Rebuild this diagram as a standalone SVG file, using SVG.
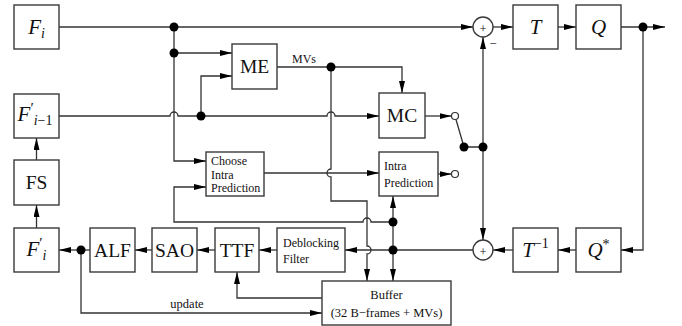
<svg xmlns="http://www.w3.org/2000/svg" width="682" height="326" viewBox="0 0 682 326">
<style>
.b{fill:#fff;stroke:#3a3a3a;stroke-width:1.4}
.l{fill:none;stroke:#333;stroke-width:1.3}
.d{fill:#000}
.o{fill:#fff;stroke:#333;stroke-width:1.2}
.m{font-family:"Liberation Serif",serif;font-style:italic;font-size:21px;fill:#111;text-anchor:middle}
.r{font-family:"Liberation Serif",serif;font-size:19.5px;fill:#111;text-anchor:middle}
.s{font-family:"Liberation Serif",serif;font-size:12px;fill:#111}
.c{font-family:"Liberation Serif",serif;font-size:12.5px;fill:#111;text-anchor:middle}
</style>
<defs>
<marker id="a" viewBox="0 0 12 6" refX="12" refY="3" markerWidth="12" markerHeight="6" markerUnits="userSpaceOnUse" orient="auto"><path d="M0,0 L12,3 L0,6 z" fill="#000"/></marker>
</defs>
<g id="connectors">
<path class="l" d="M59,27 H473" marker-end="url(#a)"/>
<path class="l" d="M174,27 V161 H206" marker-end="url(#a)"/>
<path class="l" d="M174,53 H232" marker-end="url(#a)"/>
<path class="l" d="M59,116 H170 A4,4 0 0 1 178,116 H327 A4,4 0 0 1 335,116 H379" marker-end="url(#a)"/>
<path class="l" d="M201,116 V76 H232" marker-end="url(#a)"/>
<path class="l" d="M277,67 H402 V93" marker-end="url(#a)"/>
<path class="l" d="M331,67 V169 A4,4 0 0 0 331,177 V201 H367 V246 A4,4 0 0 1 367,254 V281" marker-end="url(#a)"/>
<path class="l" d="M264,173 H379" marker-end="url(#a)"/>
<path class="l" d="M425,116 H451.5" marker-end="url(#a)"/>
<path class="l" d="M438,174 H451.5" marker-end="url(#a)"/>
<path class="l" d="M456,119.5 L464,147 H483"/>
<path class="l" d="M483,147 V37" marker-end="url(#a)"/>
<path class="l" d="M483,147 V240" marker-end="url(#a)"/>
<path class="l" d="M493,27 H513" marker-end="url(#a)"/>
<path class="l" d="M558,27 H576" marker-end="url(#a)"/>
<path class="l" d="M621,27 H665" marker-end="url(#a)"/>
<path class="l" d="M643,27 V250 H621" marker-end="url(#a)"/>
<path class="l" d="M576,250 H558" marker-end="url(#a)"/>
<path class="l" d="M513,250 H493" marker-end="url(#a)"/>
<path class="l" d="M473,250 H345" marker-end="url(#a)"/>
<path class="l" d="M393,222 V196" marker-end="url(#a)"/>
<path class="l" d="M393,222 V281" marker-end="url(#a)"/>
<path class="l" d="M393,222 H371 A4,4 0 0 0 363,222 H174 V187 H206" marker-end="url(#a)"/>
<path class="l" d="M277,250 H259" marker-end="url(#a)"/>
<path class="l" d="M215,250 H197" marker-end="url(#a)"/>
<path class="l" d="M152,250 H135" marker-end="url(#a)"/>
<path class="l" d="M90,250 H59" marker-end="url(#a)"/>
<path class="l" d="M81,250 V313 H322" marker-end="url(#a)"/>
<path class="l" d="M322,298 H237 V272" marker-end="url(#a)"/>
<path class="l" d="M36.5,228 V205" marker-end="url(#a)"/>
<path class="l" d="M36.5,160 V138" marker-end="url(#a)"/>
<circle class="d" cx="174" cy="27" r="4.5"/>
<circle class="d" cx="174" cy="53" r="4.5"/>
<circle class="d" cx="201" cy="116" r="4.5"/>
<circle class="d" cx="331" cy="67" r="4.5"/>
<circle class="d" cx="464" cy="147" r="4.5"/>
<circle class="d" cx="483" cy="147" r="4.5"/>
<circle class="d" cx="643" cy="27" r="4.5"/>
<circle class="d" cx="393" cy="222" r="4.5"/>
<circle class="d" cx="393" cy="250" r="4.5"/>
<circle class="d" cx="81" cy="250" r="4.5"/>
<circle class="o" cx="455" cy="116" r="3.5"/>
<circle class="o" cx="455" cy="174" r="3.5"/>
<text class="s" x="292" y="63" font-size="11">MVs</text>
<text class="c" x="187" y="308" font-size="14">update</text>
<text class="c" x="493" y="48" font-size="15">−</text>
</g>
<g id="Fi"><rect class="b" x="14" y="5" width="45" height="44"/><text class="m" x="36.5" y="34">F<tspan font-size="14" dy="4">i</tspan></text></g>
<g id="Fim1"><rect class="b" x="14" y="94" width="45" height="44"/><text class="m" x="35" y="121">F<tspan font-style="normal" font-size="15" dy="-8">′</tspan><tspan font-size="14" dy="12">i</tspan><tspan font-style="normal" font-size="14">−1</tspan></text></g>
<g id="FS"><rect class="b" x="14" y="160" width="45" height="45"/><text class="r" x="36.5" y="189">FS</text></g>
<g id="Fpi"><rect class="b" x="14" y="228" width="45" height="44"/><text class="m" x="36.5" y="256">F<tspan font-style="normal" font-size="15" dy="-8">′</tspan><tspan font-size="14" dy="12">i</tspan></text></g>
<g id="ALF"><rect class="b" x="90" y="228" width="45" height="44"/><text class="r" x="112.5" y="257">ALF</text></g>
<g id="SAO"><rect class="b" x="152" y="228" width="45" height="44"/><text class="r" x="174.5" y="257">SAO</text></g>
<g id="TTF"><rect class="b" x="215" y="228" width="44" height="44"/><text class="r" x="237" y="257">TTF</text></g>
<g id="Deblocking"><rect class="b" x="277" y="228" width="68" height="44"/><text class="s" x="283" y="247">Deblocking</text><text class="s" x="283" y="263">Filter</text></g>
<g id="ME"><rect class="b" x="232" y="44" width="45" height="45"/><text class="r" x="254.5" y="73">ME</text></g>
<g id="MC"><rect class="b" x="379" y="93" width="46" height="45"/><text class="r" x="402" y="122">MC</text></g>
<g id="Choose"><rect class="b" x="206" y="152" width="58" height="44"/><text class="s" x="211" y="165">Choose</text><text class="s" x="211" y="178.5">Intra</text><text class="s" x="211" y="192">Prediction</text></g>
<g id="Intra"><rect class="b" x="379" y="152" width="59" height="44"/><text class="s" x="384" y="170">Intra</text><text class="s" x="384" y="187">Prediction</text></g>
<g id="Buffer"><rect class="b" x="322" y="281" width="129" height="44"/><text class="c" x="386.5" y="299">Buffer</text><text class="c" x="386.5" y="317">(32 B−frames  + MVs)</text></g>
<g id="sum1"><circle class="b" cx="483" cy="27" r="10"/><text class="c" x="483" y="33" font-size="18">+</text></g>
<g id="sum2"><circle class="b" cx="483" cy="250" r="10"/><text class="c" x="483" y="256" font-size="18">+</text></g>
<g id="T"><rect class="b" x="513" y="5" width="45" height="44"/><text class="m" x="535.5" y="34">T</text></g>
<g id="Q"><rect class="b" x="576" y="5" width="45" height="44"/><text class="m" x="598.5" y="34">Q</text></g>
<g id="Tinv"><rect class="b" x="513" y="228" width="45" height="44"/><text class="m" x="535.5" y="257">T<tspan font-style="normal" font-size="14" dy="-9">−1</tspan></text></g>
<g id="Qstar"><rect class="b" x="576" y="228" width="45" height="44"/><text class="m" x="598.5" y="257">Q<tspan font-style="normal" font-size="14" dy="-8">*</tspan></text></g>
</svg>
